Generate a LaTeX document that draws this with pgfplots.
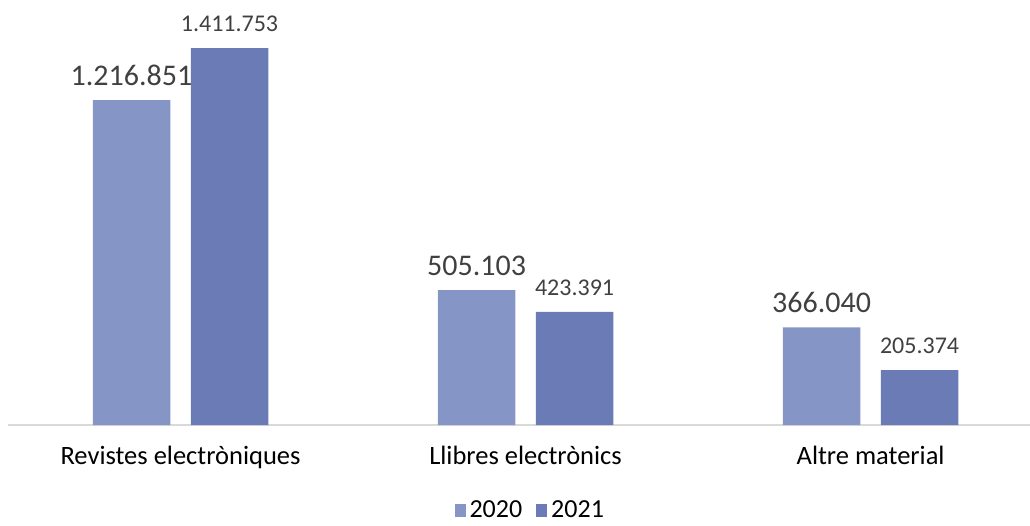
\documentclass[border=0pt]{standalone}
\usepackage{pgfplots}
\pgfplotsset{compat=1.18}
\usepackage{fontspec}
\setmainfont{Carlito}

\definecolor{c2020}{HTML}{8595C5}
\definecolor{c2021}{HTML}{6A7BB5}
\definecolor{txt}{HTML}{404040}

\begin{document}
\begin{tikzpicture}
\begin{axis}[
    at={(0,0)}, anchor=south west,
    scale only axis,
    width=1022pt, height=425pt,
    xmin=-0.5, xmax=2.462,
    ymin=0, ymax=1591760,
    axis x line*=bottom,
    axis y line=none,
    x axis line style={draw=black!15, line width=1.2pt, -},
    xtick=data,
    xticklabels={Revistes electròniques, Llibres electrònics, Altre material},
    xtick style={draw=none},
    xticklabel style={font=\fontsize{26.5}{30}\selectfont, text=black, yshift=-13pt},
    ybar, bar width=77.5pt,
    nodes near coords,
    /pgf/number format/.cd, fixed, precision=0, 1000 sep={.}, assume math mode=true,
    /pgfplots/.cd,
    legend style={draw=none, at={(0.511,-0.200)}, anchor=center,
        legend columns=2, font=\fontsize{26}{28}\selectfont, inner sep=1pt,
        /tikz/every odd column/.append style={column sep=2pt},
        /tikz/every even column/.append style={column sep=12pt}},
    legend image code/.code={\fill[#1] (0pt,-6.5pt) rectangle (11pt,6.5pt);},
]
\addplot[fill=c2020, draw=none, bar shift=-49pt,
    every node near coord/.append style={font=\fontsize{30}{34}\selectfont, text=txt, yshift=11pt}]
    coordinates {(0,1216851) (1,505103) (2,366040)};
\addplot[fill=c2021, draw=none, bar shift=49pt,
    every node near coord/.append style={font=\fontsize{24}{28}\selectfont, text=txt, yshift=13pt}]
    coordinates {(0,1411753) (1,423391) (2,205374)};
\legend{2020,2021}
\end{axis}
\pgfresetboundingbox
\useasboundingbox (-8pt,-100pt) rectangle (1022pt,425pt);
\end{tikzpicture}
\end{document}
